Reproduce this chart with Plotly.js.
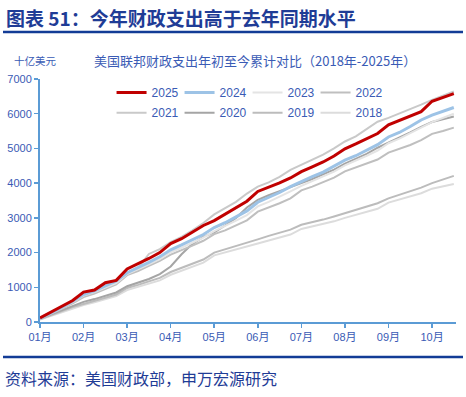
<!DOCTYPE html>
<html>
<head>
<meta charset="utf-8">
<script src="https://cdn.plot.ly/plotly-3.0.1.min.js"></script>
<style>
html,body{margin:0;padding:0;background:#fff;}
#chart{width:466px;height:397px;}
</style>
</head>
<body>
<div id="chart"></div>
<script>
// x positions in months since Jan 1 (0 = 01月)
const xMonths = [0,0.25,0.5,0.75,1,1.25,1.5,1.75,2,2.25,2.5,2.75,3,3.25,3.5,3.75,4,4.25,4.5,4.75,5,5.25,5.5,5.75,6,6.25,6.5,6.75,7,7.25,7.5,7.75,8,8.25,8.5,8.75,9,9.25,9.5];
const monthLabels = ["01月","02月","03月","04月","05月","06月","07月","08月","09月","10月"];
const monthTicks = [0,1,2,3,4,5,6,7,8,9];

const y2025 = [115,280,450,620,860,920,1130,1200,1530,1670,1830,2000,2260,2400,2580,2780,2920,3110,3280,3480,3760,3880,4010,4150,4330,4470,4610,4780,4990,5130,5290,5430,5680,5800,5930,6060,6360,6460,6580];
const y2024 = [100,250,420,600,790,900,1050,1180,1420,1560,1720,1880,2080,2220,2380,2520,2720,2860,3030,3200,3450,3580,3730,3900,4050,4190,4320,4480,4660,4790,4950,5110,5330,5460,5630,5820,5960,6070,6180];
const y2023 = [95,240,400,570,760,860,1000,1120,1380,1510,1660,1810,2010,2140,2290,2430,2620,2760,2920,3080,3330,3460,3600,3760,3920,4050,4180,4330,4510,4640,4790,4940,5150,5280,5430,5600,5760,5880,6000];
const y2022 = [90,230,380,540,720,820,960,1080,1350,1470,1620,1760,1940,2060,2200,2340,2530,2640,2780,2930,3180,3290,3420,3560,3790,3900,4030,4160,4340,4450,4560,4680,4880,4980,5100,5240,5420,5500,5600];
const y2021 = [130,280,430,580,760,860,1000,1120,1400,1560,1960,2100,2300,2450,2640,2850,3100,3280,3460,3700,3900,4020,4180,4380,4530,4660,4820,5000,5200,5350,5560,5770,5880,6000,6130,6260,6400,6520,6640];
const y2020 = [100,220,350,470,580,660,760,850,1030,1130,1240,1380,1600,1950,2250,2450,2580,2780,3000,3300,3520,3650,3760,3880,4000,4120,4250,4390,4560,4700,4840,5020,5160,5300,5460,5620,5760,5840,5920];
const y2019 = [80,200,320,430,520,600,700,790,980,1070,1170,1270,1440,1560,1680,1800,2000,2090,2180,2280,2380,2480,2580,2660,2800,2870,2950,3040,3140,3240,3330,3420,3560,3660,3770,3870,4000,4100,4210];
const y2018 = [70,180,290,400,490,570,660,750,920,1010,1100,1200,1360,1470,1590,1710,1920,2000,2080,2170,2260,2350,2440,2520,2680,2750,2820,2900,3000,3080,3170,3260,3440,3530,3620,3710,3840,3910,3975];

const seriesNames = ["2025","2024","2023","2022","2021","2020","2019","2018"];
const seriesData = [y2025,y2024,y2023,y2022,y2021,y2020,y2019,y2018];
const colors = ["#C00000","#9DC3E6","#E4E4E4","#BFBFBF","#C9C9C9","#A5A5A5","#BCBCBC","#DCDCDC"];
const widths = [3,3,2,2,2,2,2,2];
const legendOf = ["legend","legend","legend","legend","legend2","legend2","legend2","legend2"];

const traces = [];
for (let i = seriesNames.length - 1; i >= 0; i--) {
  traces.push({
    type: "scatter", mode: "lines",
    x: xMonths, y: seriesData[i], name: seriesNames[i],
    line: {color: colors[i], width: widths[i]},
    legend: legendOf[i],
    hoverinfo: "skip"
  });
}

const blue = "#3A5BB5";
const axisBlue = "#5B9BD5";
const dark = "#1F3C96";
const cjk = "'Noto Sans CJK SC', 'Liberation Sans', sans-serif";
const num = "'Liberation Sans', 'Noto Sans CJK SC', sans-serif";

const legendCommon = {
  orientation: "h", xanchor: "left", yanchor: "middle",
  bgcolor: "rgba(0,0,0,0)", borderwidth: 0,
  font: {family: num, size: 12, color: blue},
  itemwidth: 30, entrywidthmode: "pixels", entrywidth: 23,
  traceorder: "reversed", itemclick: false, itemdoubleclick: false
};

const layout = {
  width: 466, height: 397,
  margin: {l: 40, r: 10, t: 79, b: 75},
  paper_bgcolor: "#ffffff", plot_bgcolor: "#ffffff",
  showlegend: true,
  legend: Object.assign({}, legendCommon, {x: 0.172, y: 0.944}),
  legend2: Object.assign({}, legendCommon, {x: 0.172, y: 0.861}),
  xaxis: {
    range: [0, 9.55], tickvals: monthTicks, ticktext: monthLabels,
    showgrid: false, zeroline: false, showline: true,
    linecolor: axisBlue, linewidth: 2,
    ticks: "outside", ticklen: 4, tickwidth: 1.5, tickcolor: axisBlue,
    tickfont: {family: num, size: 11, color: blue}
  },
  yaxis: {
    range: [0, 7000], dtick: 1000, tick0: 0,
    showgrid: false, zeroline: false, showline: true,
    linecolor: axisBlue, linewidth: 2,
    ticks: "outside", ticklen: 4, tickwidth: 1.5, tickcolor: axisBlue,
    tickfont: {family: num, size: 11, color: blue}
  },
  annotations: [
    {text: "<b>图表 51：今年财政支出高于去年同期水平</b>", xref: "paper", yref: "paper",
     x: -40/416, xshift: 4, y: 1 + (79-18)/243, xanchor: "left", yanchor: "middle", showarrow: false,
     font: {family: cjk, size: 19, color: dark}},
    {text: "美国联邦财政支出年初至今累计对比（2018年-2025年）", xref: "paper", yref: "paper",
     x: (92-40)/416, y: 1 + (79-60)/243, xanchor: "left", yanchor: "middle", showarrow: false,
     font: {family: cjk, size: 13, color: blue}},
    {text: "十亿美元", xref: "paper", yref: "paper",
     x: (12-40)/416, y: 1 + (79-60)/243, xanchor: "left", yanchor: "middle", showarrow: false,
     font: {family: cjk, size: 10.5, color: blue}},
    {text: "资料来源：美国财政部，申万宏源研究", xref: "paper", yref: "paper",
     x: (3-40)/416, y: -(378-322)/243, xanchor: "left", yanchor: "middle", showarrow: false,
     font: {family: cjk, size: 16, color: dark}}
  ],
  shapes: [
    {type: "line", xref: "paper", yref: "paper", x0: (3-40)/416, x1: (463-40)/416,
     y0: 1 + (79-32)/243, y1: 1 + (79-32)/243, line: {color: "#133C96", width: 2.5}},
    {type: "line", xref: "paper", yref: "paper", x0: (3-40)/416, x1: (463-40)/416,
     y0: -(357-322)/243, y1: -(357-322)/243, line: {color: "#133C96", width: 2.5}}
  ]
};

Plotly.newPlot("chart", traces, layout, {displayModeBar: false, staticPlot: true});
</script>
</body>
</html>
